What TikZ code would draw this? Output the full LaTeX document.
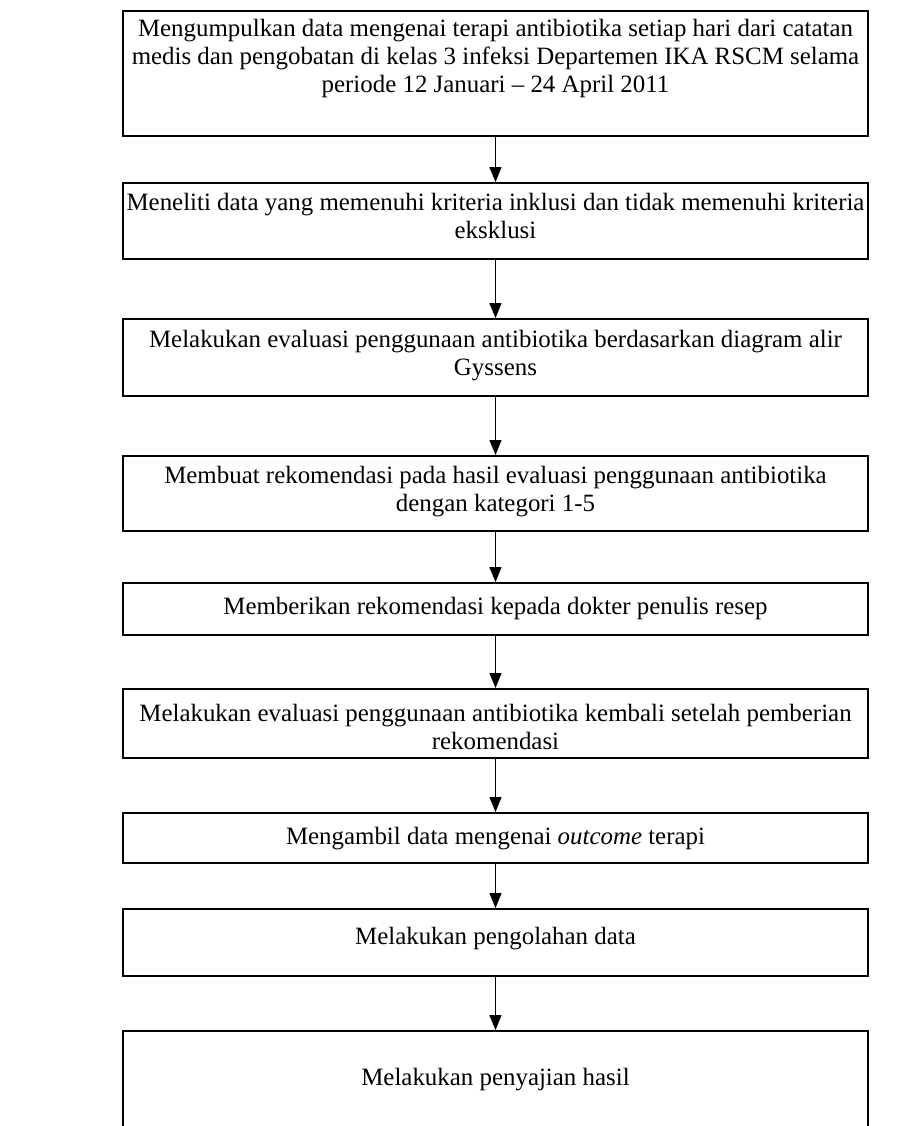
\documentclass[tikz,border=0pt]{standalone}
\usepackage{fontspec}
\setmainfont{Liberation Serif}
\usetikzlibrary{arrows.meta}
\begin{document}
% Unit: 1 = 0.5pt, y grows downward from the top edge
\begin{tikzpicture}[x=0.5pt,y=-0.5pt,
  stepbox/.style={draw, line width=0.9pt, minimum width=372.5pt, inner sep=0pt, anchor=north},
  steptext/.style={align=center, inner sep=0pt, anchor=north,
    font=\fontsize{12.45}{14}\selectfont},
  flow/.style={-{Triangle[length=7.5pt,width=6pt]}, line width=0.7pt}]
\useasboundingbox (0,0) rectangle (915,1126);
\clip (0,0) rectangle (915,1126);

% step boxes
\node[stepbox, minimum height=62.5pt] (b1) at (495.5,10)   {};
\node[stepbox, minimum height=38pt]   (b2) at (495.5,182)  {};
\node[stepbox, minimum height=38.5pt] (b3) at (495.5,318)  {};
\node[stepbox, minimum height=37.5pt] (b4) at (495.5,455)  {};
\node[stepbox, minimum height=26pt]   (b5) at (495.5,582)  {};
\node[stepbox, minimum height=34.5pt] (b6) at (495.5,688)  {};
\node[stepbox, minimum height=25pt]   (b7) at (495.5,812)  {};
\node[stepbox, minimum height=33.5pt] (b8) at (495.5,908)  {};
\node[stepbox, minimum height=60pt]   (b9) at (495.5,1030) {};

% step texts
\node[steptext] (t1) at (495.5,19) {Mengumpulkan data mengenai terapi antibiotika setiap hari dari catatan\\
  medis dan pengobatan di kelas 3 infeksi Departemen IKA RSCM selama\\
  periode 12 Januari -- 24 April 2011};
\node[steptext] (t2) at (495.5,193) {Meneliti data yang memenuhi kriteria inklusi dan tidak memenuhi kriteria\\eksklusi};
\node[steptext] (t3) at (495.5,330) {Melakukan evaluasi penggunaan antibiotika berdasarkan diagram alir\\Gyssens};
\node[steptext] (t4) at (495.5,466) {Membuat rekomendasi pada hasil evaluasi penggunaan antibiotika\\dengan kategori 1-5};
\node[steptext] (t5) at (495.5,597) {Memberikan rekomendasi kepada dokter penulis resep};
\begin{scope}
  \clip (b6.north west) rectangle (b6.south east);
  \node[steptext] (t6) at (495.5,704) {Melakukan evaluasi penggunaan antibiotika kembali setelah pemberian\\rekomendasi};
\end{scope}
\node[steptext] (t7) at (495.5,827) {Mengambil data mengenai \textit{outcome} terapi};
\node[steptext] (t8) at (495.5,927) {Melakukan pengolahan data};
\node[steptext] (t9) at (495.5,1068) {Melakukan penyajian hasil};

% connectors
\foreach \a/\b in {b1/b2,b2/b3,b3/b4,b4/b5,b5/b6,b6/b7,b7/b8,b8/b9}
  \draw[flow] (\a.south) -- (\b.north);
\end{tikzpicture}
\end{document}
